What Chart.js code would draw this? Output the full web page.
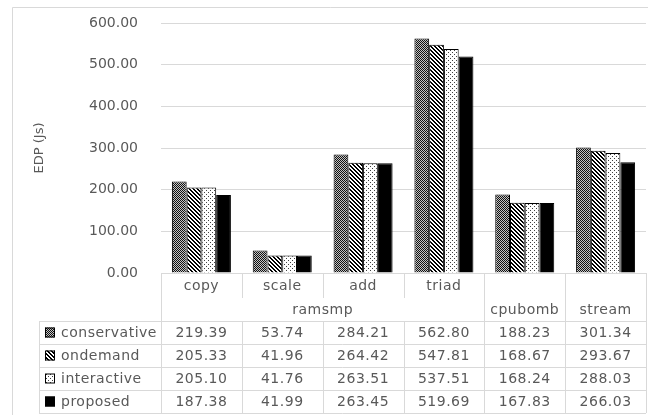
<!DOCTYPE html>
<html>
<head>
<meta charset="utf-8">
<title>EDP per benchmark</title>
<script src="https://cdn.jsdelivr.net/npm/chart.js/dist/chart.umd.min.js"></script>
<style>
  html, body { margin: 0; padding: 0; background: #fff; }
  #wrap { width: 648px; height: 415px; }
</style>
</head>
<body>
<div id="wrap"><canvas id="myChart" width="648" height="415"></canvas></div>
<script>
// ---- data ----
const subLabels = ['copy', 'scale', 'add', 'triad', '', ''];
const groupNames = ['ramsmp', 'cpubomb', 'stream'];
const groupSpans = [4, 1, 1];
const seriesNames = ['conservative', 'ondemand', 'interactive', 'proposed'];
const conservative = [219.39, 53.74, 284.21, 562.80, 188.23, 301.34];
const ondemand     = [205.33, 41.96, 264.42, 547.81, 168.67, 293.67];
const interactive  = [205.10, 41.76, 263.51, 537.51, 168.24, 288.03];
const proposed     = [187.38, 41.99, 263.45, 519.69, 167.83, 266.03];
const yMin = 0, yMax = 600, yStep = 100;
const yTitle = 'EDP (Js)';

const textColor = '#595959';
const lineColor = '#d9d9d9';

// ---- fill patterns ----
function tile(size, draw) {
    const c = document.createElement('canvas');
    c.width = size; c.height = size;
    const t = c.getContext('2d');
    draw(t);
    return t.createPattern(c, 'repeat');
}
const patConservative = tile(2, t => {
    t.fillStyle = '#c4c4c4'; t.fillRect(0, 0, 2, 2);
    t.fillStyle = '#111'; t.fillRect(0, 0, 1, 1); t.fillRect(1, 1, 1, 1);
});
const patOndemand = tile(4, t => {
    t.fillStyle = '#fff'; t.fillRect(0, 0, 4, 4);
    t.fillStyle = '#000';
    for (let i = 0; i < 4; i++) { t.fillRect(i, i, 1, 1); t.fillRect((i + 1) % 4, i, 1, 1); }
});
const patInteractive = tile(4, t => {
    t.fillStyle = '#fff'; t.fillRect(0, 0, 4, 4);
    t.fillStyle = '#404040'; t.fillRect(0, 0, 1, 1); t.fillRect(2, 2, 1, 1);
});
const fills = [patConservative, patOndemand, patInteractive, '#000'];
const seriesData = [conservative, ondemand, interactive, proposed];

// ---- background + outer border ----
const frame = {
    id: 'frame',
    beforeDraw(chart) {
        const ctx = chart.ctx;
        ctx.save();
        ctx.fillStyle = '#fff';
        ctx.fillRect(0, 0, chart.width, chart.height);
        ctx.strokeStyle = lineColor;
        ctx.lineWidth = 1;
        ctx.beginPath();
        ctx.moveTo(12.5, chart.height);
        ctx.lineTo(12.5, 7.5);
        ctx.lineTo(chart.width, 7.5);
        ctx.stroke();
        ctx.restore();
    }
};

// ---- data table under the plot ----
const dataTable = {
    id: 'dataTable',
    afterDraw(chart) {
        const ctx = chart.ctx;
        const xs = chart.scales.x;
        const area = chart.chartArea;
        const n = subLabels.length;
        const colW = (xs.right - xs.left) / n;
        const colX = i => xs.left + i * colW;
        const top = area.bottom;
        const row1 = top + 25;
        const row2 = top + 48;
        const rowH = 23;
        const bottom = row2 + rowH * seriesNames.length;
        const labelLeft = 39;

        ctx.save();
        ctx.strokeStyle = lineColor;
        ctx.lineWidth = 1;
        const hLine = (x1, x2, y) => { ctx.beginPath(); ctx.moveTo(x1, Math.round(y) + 0.5); ctx.lineTo(x2, Math.round(y) + 0.5); ctx.stroke(); };
        const vLine = (x, y1, y2) => { ctx.beginPath(); ctx.moveTo(Math.round(x) + 0.5, y1); ctx.lineTo(Math.round(x) + 0.5, y2); ctx.stroke(); };

        // horizontal rules
        for (let r = 0; r <= seriesNames.length; r++) hLine(labelLeft, xs.right, row2 + r * rowH);

        // vertical rules
        vLine(labelLeft, row2, bottom);
        let gStart = 0;
        const groupEdges = [0];
        groupSpans.forEach(s => { gStart += s; groupEdges.push(gStart); });
        for (let i = 0; i <= n; i++) {
            if (groupEdges.includes(i)) vLine(colX(i), top, bottom);
            else { vLine(colX(i), top, row1); vLine(colX(i), row2, bottom); }
        }

        ctx.fillStyle = textColor;
        ctx.font = '14px "DejaVu Sans"';
        ctx.letterSpacing = '0.5px';
        ctx.textBaseline = 'middle';
        ctx.textAlign = 'center';

        // category row
        subLabels.forEach((s, i) => { if (s) ctx.fillText(s, xs.getPixelForValue(i), (top + row1) / 2 + 1); });
        // group row
        let g0 = 0;
        groupNames.forEach((g, k) => {
            const cx = (colX(g0) + colX(g0 + groupSpans[k])) / 2;
            ctx.fillText(g, cx, (row1 + row2) / 2 + 1);
            g0 += groupSpans[k];
        });

        // series rows
        seriesNames.forEach((name, r) => {
            const cy = row2 + r * rowH + rowH / 2 + 1;
            ctx.fillStyle = fills[r];
            ctx.fillRect(45, cy - 6, 10, 10);
            ctx.strokeStyle = '#000';
            ctx.strokeRect(45.5, cy - 5.5, 9, 9);
            ctx.fillStyle = textColor;
            ctx.textAlign = 'left';
            ctx.fillText(name, 61, cy);
            ctx.textAlign = 'center';
            seriesData[r].forEach((v, i) => ctx.fillText(v.toFixed(2), xs.getPixelForValue(i), cy));
        });
        ctx.restore();
    }
};

const ctx = document.getElementById('myChart').getContext('2d');
const myChart = new Chart(ctx, {
    type: 'bar',
    data: {
        labels: subLabels.map((s, i) => s || groupNames[i - 3]),
        datasets: seriesNames.map((name, k) => ({
            label: name,
            data: seriesData[k],
            backgroundColor: fills[k],
            borderColor: '#000',
            borderWidth: 1,
            categoryPercentage: 0.73,
            barPercentage: 1.0
        }))
    },
    options: {
        responsive: false,
        animation: false,
        layout: { padding: { top: 23, right: 2, bottom: 142, left: 0 } },
        plugins: { legend: { display: false }, tooltip: { enabled: false } },
        scales: {
            x: {
                ticks: { display: false },
                grid: { display: false, drawTicks: false },
                border: { display: true, color: lineColor, width: 1 }
            },
            y: {
                min: yMin,
                max: yMax,
                afterFit(scale) { scale.width = 161; },
                ticks: {
                    stepSize: yStep,
                    padding: 0,
                    color: textColor,
                    font: { family: 'DejaVu Sans', size: 14 },
                    callback: v => v.toFixed(2)
                },
                // tick marks kept invisible, only used as a gap before the labels
                grid: { color: lineColor, drawTicks: true, tickLength: 23, tickColor: 'rgba(0,0,0,0)' },
                border: { display: false },
                title: {
                    display: true,
                    text: yTitle,
                    color: textColor,
                    font: { family: 'DejaVu Sans', size: 13 },
                    padding: { top: 32, bottom: 0 }
                }
            }
        }
    },
    plugins: [frame, dataTable]
});
</script>
</body>
</html>
